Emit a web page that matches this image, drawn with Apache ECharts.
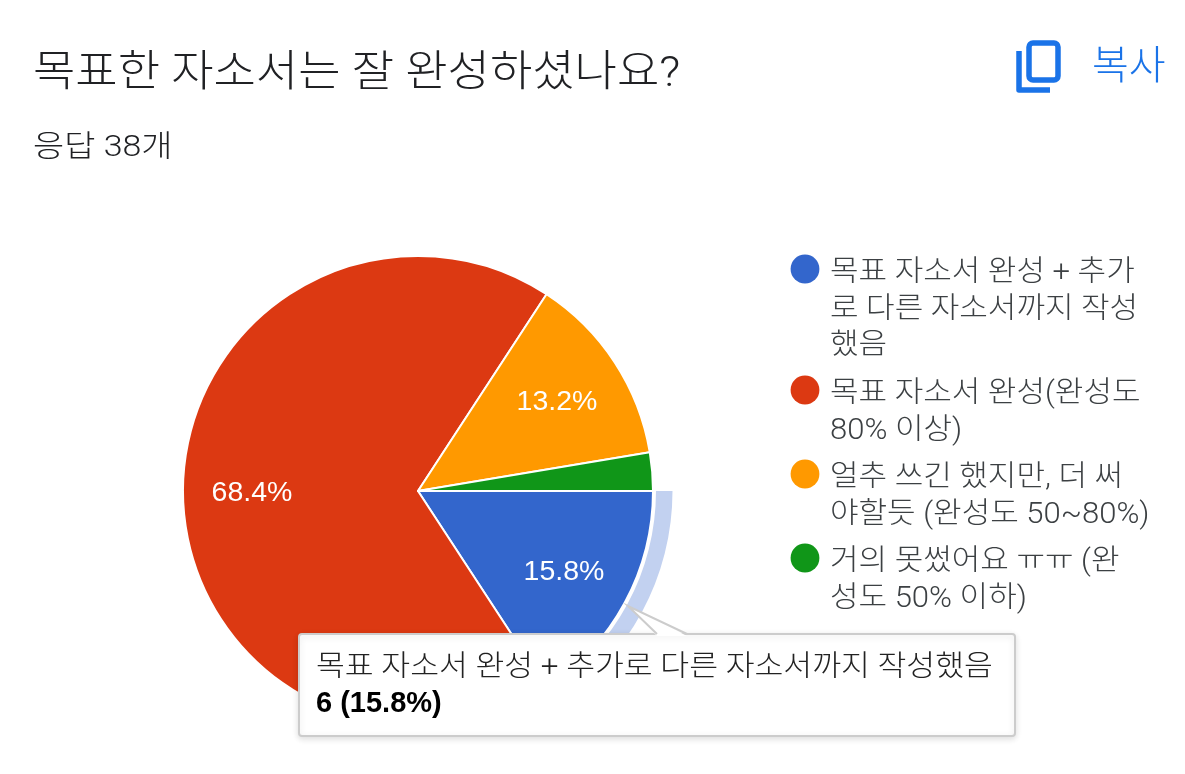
<!DOCTYPE html>
<html lang="ko">
<head>
<meta charset="utf-8">
<style>
html,body{margin:0;padding:0;background:#fff}
#chart{width:1185px;height:774px}
</style>
<script src="https://cdn.jsdelivr.net/npm/echarts@6/dist/echarts.min.js"></script>
</head>
<body>
<div id="chart"></div>
<script>
// 설문 응답 데이터
const titleText = '목표한 자소서는 잘 완성하셨나요?';
const subtitleText = '응답 38개';
const copyText = '복사';
const categories = [
  '목표 자소서 완성 + 추가로 다른 자소서까지 작성했음',
  '목표 자소서 완성(완성도 80% 이상)',
  '얼추 쓰긴 했지만, 더 써야할듯 (완성도 50~80%)',
  '거의 못썼어요 ㅠㅠ (완성도 50% 이하)'
];
const legendLines = [
  ['목표 자소서 완성 + 추가', '로 다른 자소서까지 작성', '했음'],
  ['목표 자소서 완성(완성도', '80% 이상)'],
  ['얼추 쓰긴 했지만, 더 써', '야할듯 (완성도 50~80%)'],
  ['거의 못썼어요 ㅠㅠ (완', '성도 50% 이하)']
];
const counts = [6, 26, 5, 1];
const colors = ['#3366cc', '#dc3912', '#ff9900', '#109618'];
const ringColor = '#c2d1f0';
const hoveredIndex = 0;

const LATIN = '"Liberation Sans", "Noto Sans CJK KR", sans-serif';
const HEAD = 'Roboto, "Noto Sans CJK KR", sans-serif';
const total = counts.reduce((a, b) => a + b, 0);
const pieCenter = [418, 491];
const pieRadius = 235;

const chart = echarts.init(document.getElementById('chart'), null, { renderer: 'canvas' });

// 머리글: 한글 자폭이 좁아 가로로 조금 늘려 그린다
const headGraphics = [
  {
    type: 'text', x: 33, y: 75, scaleX: 1.07,
    style: { text: titleText, font: '300 43px ' + HEAD, fill: '#202124', verticalAlign: 'middle' }
  },
  {
    type: 'text', x: 33, y: 148, scaleX: 1.13,
    style: { text: subtitleText, font: '300 30px ' + HEAD, fill: '#202124', verticalAlign: 'middle' }
  },
  {
    type: 'text', x: 1092, y: 69,
    style: { text: copyText, font: '300 40px ' + HEAD, fill: '#1a73e8', verticalAlign: 'middle' }
  }
];

// 범례: 글머리 원은 첫 줄 높이에 맞추므로 직접 배치한다
const legendCentres = [269, 390, 474, 558];
const legendGraphics = [];
legendLines.forEach((lines, i) => {
  legendGraphics.push({
    type: 'circle', shape: { cx: 805, cy: legendCentres[i], r: 14.4 },
    style: { fill: colors[i] }, z: 10
  });
  legendGraphics.push({
    type: 'text', x: 830, y: legendCentres[i] - 13.5, scaleX: 1.07,
    style: { text: lines.join('\n'), font: '300 29px ' + HEAD, lineHeight: 36.5, fill: '#3c4043', verticalAlign: 'top' }, z: 10
  });
});

// 강조된 조각의 말풍선
const value = counts[hoveredIndex];
const share = (value / total * 100).toFixed(1);
const tooltipGraphics = [
  {
    type: 'rect', shape: { x: 299, y: 634, width: 716, height: 102, r: 3 },
    style: { fill: '#fff', stroke: '#cccccc', lineWidth: 2, shadowBlur: 6, shadowColor: 'rgba(0,0,0,0.12)', shadowOffsetY: 2 }, z: 100
  },
  {
    type: 'polygon', shape: { points: [[628, 606], [657, 636], [687, 636]] },
    style: { fill: '#fff' }, z: 101
  },
  {
    type: 'polyline', shape: { points: [[657, 634], [628, 606], [687, 634]] },
    style: { fill: 'none', stroke: '#cccccc', lineWidth: 2 }, z: 102
  },
  {
    type: 'text', x: 316, y: 669, scaleX: 1.081,
    style: { text: categories[hoveredIndex], font: '300 29px ' + HEAD, fill: '#222222', verticalAlign: 'middle' }, z: 103
  },
  {
    type: 'text', x: 316, y: 704,
    style: { text: value + ' (' + share + '%)', font: '700 29px ' + LATIN, fill: '#000000', verticalAlign: 'middle' }, z: 103
  }
];

// 복사 아이콘
const copyIcon = [
  {
    type: 'rect', shape: { x: 1029, y: 43, width: 29, height: 37, r: 4 },
    style: { fill: 'none', stroke: '#1a73e8', lineWidth: 5.5 }, z: 10
  },
  {
    type: 'polyline', shape: { points: [[1019, 51], [1019, 90], [1050, 90]] },
    style: { fill: 'none', stroke: '#1a73e8', lineWidth: 5.5, lineJoin: 'round' }, z: 10
  }
];

chart.setOption({
  animation: false,
  backgroundColor: '#ffffff',
  series: [
    {
      // 선택된 조각 바깥쪽의 강조 고리
      type: 'pie', silent: true, center: pieCenter, radius: [238, 254.5],
      startAngle: 0, clockwise: true, label: { show: false }, labelLine: { show: false },
      data: counts.map((v, i) => ({
        value: v, name: categories[i],
        itemStyle: { color: i === hoveredIndex ? ringColor : 'rgba(0,0,0,0)' }
      }))
    },
    {
      type: 'pie', silent: true, center: pieCenter, radius: [0, pieRadius],
      startAngle: 0, clockwise: true, label: { show: false }, labelLine: { show: false },
      itemStyle: { borderColor: '#ffffff', borderWidth: 2 },
      data: counts.map((v, i) => ({ value: v, name: categories[i], itemStyle: { color: colors[i] } }))
    },
    {
      // 백분율 라벨 전용 층: 반지름의 70% 지점에 라벨이 놓인다
      type: 'pie', silent: true, center: pieCenter, radius: [91, pieRadius],
      startAngle: 0, clockwise: true, labelLine: { show: false },
      itemStyle: { color: 'rgba(0,0,0,0)' },
      label: {
        position: 'inside', color: '#ffffff', fontFamily: LATIN, fontSize: 28.5,
        offset: [0, 2],
        formatter: p => p.percent.toFixed(1) + '%'
      },
      data: counts.map((v, i) => ({
        value: v, name: categories[i],
        label: { show: v / total >= 0.05 }
      }))
    }
  ],
  graphic: { elements: [...headGraphics, ...legendGraphics, ...copyIcon, ...tooltipGraphics] }
});
</script>
</body>
</html>
